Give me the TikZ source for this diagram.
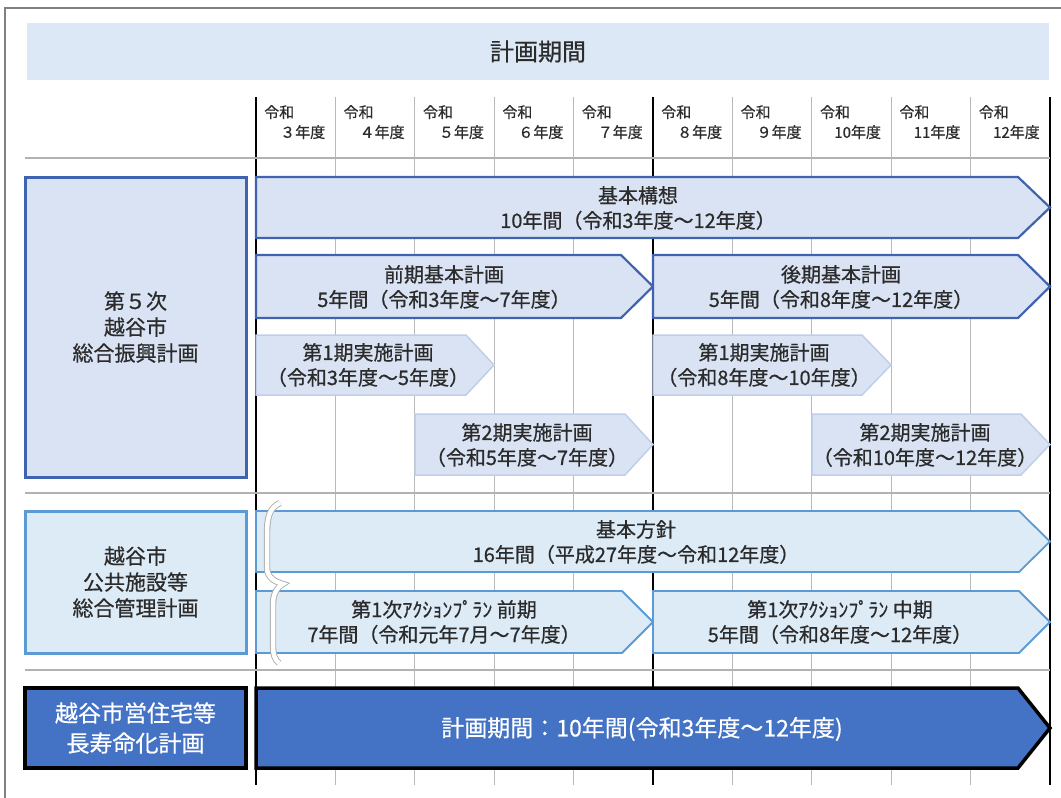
\documentclass[tikz,border=0pt]{standalone}
\usepackage{fontspec}
\setmainfont{Noto Sans CJK JP}[FakeBold=0.6]
\usepackage{tikz}

\definecolor{bandblue}{HTML}{DCE8F5}
\definecolor{planfill}{HTML}{DAE3F3}
\definecolor{planline}{HTML}{3F63AE}
\definecolor{stepline}{HTML}{BFCFEA}
\definecolor{mgmtfill}{HTML}{DDEBF7}
\definecolor{mgmtline}{HTML}{5B9BD5}
\definecolor{housefill}{HTML}{4472C4}
\definecolor{inkgray}{HTML}{2B2B2B}

\tikzset{
    catbox/.style={
           rectangle,
           minimum width=221pt,
           inner sep=2pt,
           align=center,
           text=inkgray,
           font=\fontsize{21}{26}\selectfont,
           },
    plancat/.style={catbox, fill=planfill, draw=planline, line width=3pt},
    mgmtcat/.style={catbox, fill=mgmtfill, draw=mgmtline, line width=3pt},
    housecat/.style={catbox, fill=housefill, draw=black, line width=3.5pt,
           text=white, font=\fontsize{23}{30}\selectfont},
    planarrow/.style={fill=planfill, draw=planline, line width=2.2pt},
    steparrow/.style={fill=planfill, draw=stepline, line width=1.5pt},
    mgmtarrow/.style={fill=mgmtfill, draw=mgmtline, line width=1.8pt},
    housearrow/.style={fill=housefill, draw=black, line width=3.5pt},
    arrowtext/.style={align=center, inner sep=0pt, text=inkgray,
           font=\fontsize{20}{25}\selectfont},
    yearlabel/.style={anchor=north west, text width=61pt, align=left,
           inner sep=0pt, text=inkgray, font=\fontsize{15}{20}\selectfont},
    minorline/.style={draw=gray!55, line width=1pt},
    majorline/.style={draw=black, line width=2pt},
    rowline/.style={draw=gray!60, line width=1.5pt},
}

\begin{document}
\begin{tikzpicture}[x=1pt, y=-1pt]
    \useasboundingbox (0,0) rectangle (1061,798);

    % frame and title band
    \draw[gray, line width=2pt] (5,798) -- (5,8) -- (1061,8);
    \node[fill=bandblue, minimum width=1022pt, minimum height=57pt,
          text=inkgray, font=\fontsize{24}{28}\selectfont] (band) at (538,51.5) {計画期間};

    % year grid
    \foreach \x in {335.4,414.8,494.2,573.6,732.4,811.8,891.2,970.6}
        \draw[minorline] (\x,97) -- (\x,785);
    \foreach \x in {256,653,1050}
        \draw[majorline] (\x,97) -- (\x,785);
    \draw[rowline] (25,158) -- (1050,158);
    \draw[rowline] (25,493) -- (1050,493);
    \draw[rowline] (25,670) -- (1050,670);

    % fiscal years
    \node[yearlabel] (r3)  at (264,105)   {令和\\\mbox{}\hfill ３年度};
    \node[yearlabel] (r4)  at (343.4,105) {令和\\\mbox{}\hfill ４年度};
    \node[yearlabel] (r5)  at (422.8,105) {令和\\\mbox{}\hfill ５年度};
    \node[yearlabel] (r6)  at (502.2,105) {令和\\\mbox{}\hfill ６年度};
    \node[yearlabel] (r7)  at (581.6,105) {令和\\\mbox{}\hfill ７年度};
    \node[yearlabel] (r8)  at (661,105)   {令和\\\mbox{}\hfill ８年度};
    \node[yearlabel] (r9)  at (740.4,105) {令和\\\mbox{}\hfill ９年度};
    \node[yearlabel] (r10) at (819.8,105) {令和\\\mbox{}\hfill 10年度};
    \node[yearlabel] (r11) at (899.2,105) {令和\\\mbox{}\hfill 11年度};
    \node[yearlabel] (r12) at (978.6,105) {令和\\\mbox{}\hfill 12年度};

    % plan categories
    \node[plancat, minimum height=300pt] (sogo) at (135.5,327)
        {第５次\\越谷市\\総合振興計画};
    \node[mgmtcat, minimum height=142pt] (kokyo) at (135.5,582)
        {越谷市\\公共施設等\\総合管理計画};
    \node[housecat, minimum height=80pt] (jutaku) at (135.5,728)
        {越谷市営住宅等\\長寿命化計画};

    % comprehensive plan
    \draw[planarrow] (256,177) -- (1018,177) -- (1050,207.5) -- (1018,238) -- (256,238) -- cycle;
    \node[arrowtext] (kousou) at (638,208) {基本構想\\10年間（令和3年度～12年度）};

    \draw[planarrow] (256,255) -- (621,255) -- (653,286.5) -- (621,318) -- (256,318) -- cycle;
    \node[arrowtext] (zenki) at (444,287) {前期基本計画\\5年間（令和3年度～7年度）};

    \draw[planarrow] (653,255) -- (1018,255) -- (1050,286.5) -- (1018,318) -- (653,318) -- cycle;
    \node[arrowtext] (kouki) at (841,287) {後期基本計画\\5年間（令和8年度～12年度）};

    \draw[steparrow] (256,335) -- (466,335) -- (494,365) -- (466,395) -- (256,395) -- cycle;
    \node[arrowtext] (jisshi1) at (368,365) {第1期実施計画\\（令和3年度～5年度）};

    \draw[steparrow] (415,414) -- (625,414) -- (653,444.5) -- (625,475) -- (415,475) -- cycle;
    \node[arrowtext] (jisshi2) at (527,445) {第2期実施計画\\（令和5年度～7年度）};

    \draw[steparrow] (653,335) -- (862,335) -- (891,365) -- (862,395) -- (653,395) -- cycle;
    \node[arrowtext] (jisshi3) at (764,365) {第1期実施計画\\（令和8年度～10年度）};

    \draw[steparrow] (812,414) -- (1021,414) -- (1050,444.5) -- (1021,475) -- (812,475) -- cycle;
    \node[arrowtext] (jisshi4) at (925,445) {第2期実施計画\\（令和10年度～12年度）};

    % public facilities plan
    \draw[mgmtarrow] (256,511) -- (1019,511) -- (1050,541.5) -- (1019,572) -- (256,572) -- cycle;
    \node[arrowtext] (houshin) at (636,542) {基本方針\\16年間（平成27年度～令和12年度）};

    \draw[mgmtarrow] (256,591) -- (622,591) -- (653,622) -- (622,653) -- (256,653) -- cycle;
    \node[arrowtext] (action1) at (444,622) {第1次ｱｸｼｮﾝﾌﾟﾗﾝ 前期\\7年間（令和元年7月～7年度）};

    \draw[mgmtarrow] (653,591) -- (1019,591) -- (1050,622) -- (1019,653) -- (653,653) -- cycle;
    \node[arrowtext] (action2) at (840,622) {第1次ｱｸｼｮﾝﾌﾟﾗﾝ 中期\\5年間（令和8年度～12年度）};

    % brace over both rows
    \draw[draw=gray!65, double=white, double distance=4.5pt, line width=0.9pt]
        (280,503) .. controls (269,508) and (267,518) .. (267,535)
        -- (267,568) .. controls (267,578) and (276,582) .. (283,584)
        .. controls (276,588) and (273,595) .. (273,605)
        -- (273,645) .. controls (273,655) and (275,660) .. (279,663);

    % housing plan
    \draw[housearrow] (256,688) -- (1018,688) -- (1050,728) -- (1018,768) -- (256,768) -- cycle;
    \node[arrowtext, text=white, font=\fontsize{23}{28}\selectfont] (kikan) at (642,729)
        {計画期間：10年間(令和3年度～12年度)};
\end{tikzpicture}
\end{document}
